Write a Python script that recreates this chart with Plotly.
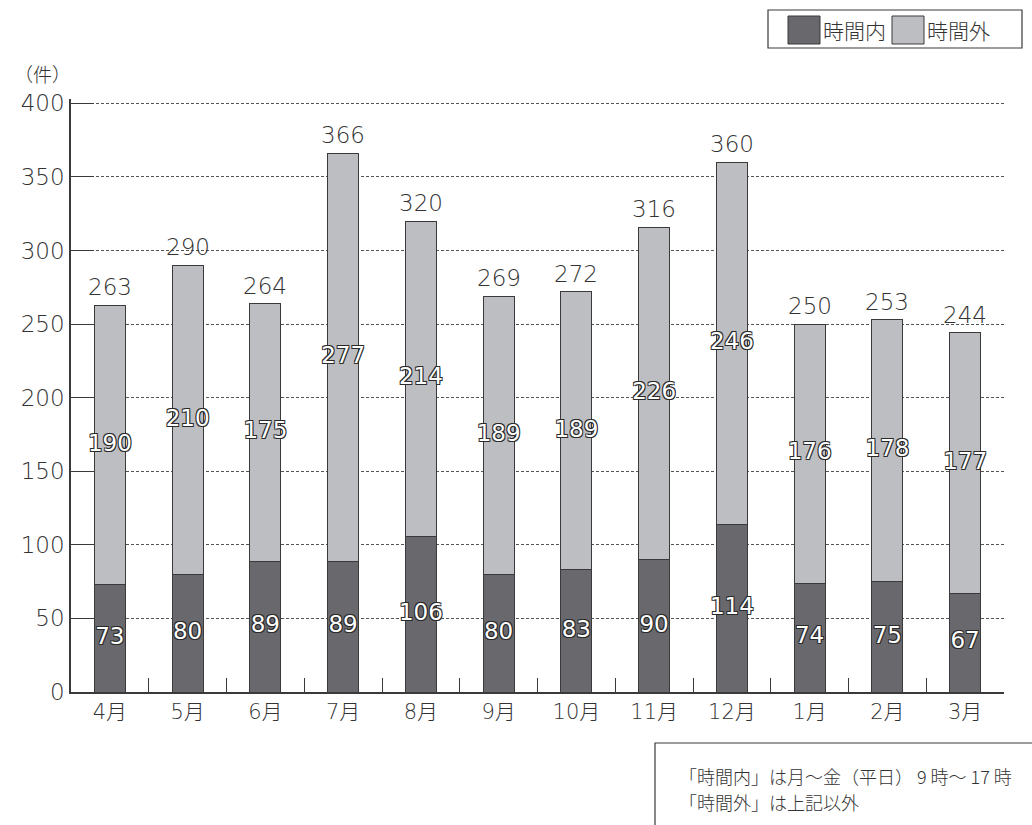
import plotly.graph_objects as go

# 月別の件数（時間内 / 時間外）
months = ["4月", "5月", "6月", "7月", "8月", "9月", "10月", "11月", "12月", "1月", "2月", "3月"]
in_hours = [73, 80, 89, 89, 106, 80, 83, 90, 114, 74, 75, 67]
out_hours = [190, 210, 175, 277, 214, 189, 189, 226, 246, 176, 178, 177]
y_ticks = [0, 50, 100, 150, 200, 250, 300, 350, 400]

totals = [a + b for a, b in zip(in_hours, out_hours)]
in_mid = [a / 2 for a in in_hours]
out_mid = [a + b / 2 for a, b in zip(in_hours, out_hours)]

FONT = "DejaVu Sans, Noto Sans CJK JP, sans-serif"
JP_FONT = "Noto Sans CJK JP, sans-serif"
THIN = 200
DARK = "#68686d"
LIGHT = "#bdbec2"
EDGE = "#3a3a3a"
TEXT = "#333333"
OUTLINE = ("1px 1px 0 #2a2a2a, -1px -1px 0 #2a2a2a, 1px -1px 0 #2a2a2a, -1px 1px 0 #2a2a2a")

fig = go.Figure()

fig.add_trace(go.Bar(
    x=months, y=in_hours, name="時間内",
    marker=dict(color=DARK, line=dict(color=EDGE, width=1)),
    width=0.4, hoverinfo="y",
))
fig.add_trace(go.Bar(
    x=months, y=out_hours, name="時間外",
    marker=dict(color=LIGHT, line=dict(color=EDGE, width=1)),
    width=0.4, hoverinfo="y",
))

# 各区分の件数（棒の中央、白抜き文字）
label_font = dict(family=FONT, size=23, color="white", shadow=OUTLINE, weight=400)
fig.add_trace(go.Scatter(
    x=months, y=in_mid, text=[str(v) for v in in_hours], mode="text",
    textposition="middle center", textfont=label_font,
    showlegend=False, hoverinfo="skip", cliponaxis=False,
))
fig.add_trace(go.Scatter(
    x=months, y=out_mid, text=[str(v) for v in out_hours], mode="text",
    textposition="middle center", textfont=label_font,
    showlegend=False, hoverinfo="skip", cliponaxis=False,
))

fig.update_layout(
    width=1032, height=825,
    margin=dict(l=71, r=28, t=99, b=133),
    barmode="stack",
    showlegend=False,
    plot_bgcolor="white", paper_bgcolor="white",
    font=dict(family=FONT, color=TEXT),
    xaxis=dict(
        range=[-0.5, 11.5], showgrid=False,
        showline=True, linecolor=EDGE, linewidth=1.5,
        ticks="inside", ticklen=14, tickcolor=EDGE, tickwidth=1,
        tickson="boundaries",
        tickfont=dict(family=FONT, size=21, color=TEXT, weight=THIN),
        fixedrange=True,
    ),
    yaxis=dict(
        range=[0, 403], tickvals=y_ticks,
        showgrid=True, gridcolor="#555555", griddash="3px,2px", gridwidth=1,
        showline=True, linecolor=EDGE, linewidth=1.5,
        ticks="inside", ticklen=23, tickcolor=EDGE, tickwidth=1,
        tickfont=dict(family=FONT, size=23, color=TEXT, weight=THIN),
        zeroline=False, fixedrange=True,
    ),
)

# 合計件数（棒の上）
for m, t in zip(months, totals):
    fig.add_annotation(
        x=m, y=t, text=str(t), showarrow=False, yanchor="bottom", yshift=3,
        font=dict(family=FONT, size=23, color=TEXT, weight=THIN),
    )

# 紙面座標への換算
PLOT_L, PLOT_R, PLOT_T, PLOT_B = 71, 1032 - 28, 99, 825 - 133

def px_x(p):
    return (p - PLOT_L) / (PLOT_R - PLOT_L)

def px_y(p):
    return (PLOT_B - p) / (PLOT_B - PLOT_T)

# 単位
fig.add_annotation(
    xref="paper", yref="paper", x=px_x(12), y=px_y(73),
    text="（件）", showarrow=False, xanchor="left", yanchor="middle",
    font=dict(family=JP_FONT, size=19, color=TEXT, weight=THIN),
)

# 凡例（右上の枠）
fig.add_shape(type="rect", xref="paper", yref="paper",
              x0=px_x(768), x1=px_x(1022), y0=px_y(48), y1=px_y(10),
              line=dict(color=EDGE, width=1.2), fillcolor="white")
for sx, color, name in [(788, DARK, "時間内"), (892, LIGHT, "時間外")]:
    fig.add_shape(type="rect", xref="paper", yref="paper",
                  x0=px_x(sx), x1=px_x(sx + 32), y0=px_y(44), y1=px_y(16),
                  line=dict(color=EDGE, width=1), fillcolor=color)
    fig.add_annotation(xref="paper", yref="paper", x=px_x(sx + 33), y=px_y(30),
                       text=name, showarrow=False, xanchor="left", yanchor="middle",
                       font=dict(family=JP_FONT, size=21, color=TEXT, weight=THIN))

# 注記（右下の枠）
fig.add_shape(type="path", xref="paper", yref="paper",
              path=f"M {px_x(655)},{px_y(830)} L {px_x(655)},{px_y(743)} L {px_x(1040)},{px_y(743)}",
              line=dict(color=EDGE, width=1.2))
notes = ["「時間内」は月～金（平日） 9 時～ 17 時", "「時間外」は上記以外"]
for i, line in enumerate(notes):
    fig.add_annotation(xref="paper", yref="paper", x=px_x(677), y=px_y(776 + 26 * i),
                       text=line, showarrow=False, xanchor="left", yanchor="middle",
                       align="left",
                       font=dict(family=JP_FONT, size=18, color=TEXT, weight=THIN))

fig.write_html("out.html")
